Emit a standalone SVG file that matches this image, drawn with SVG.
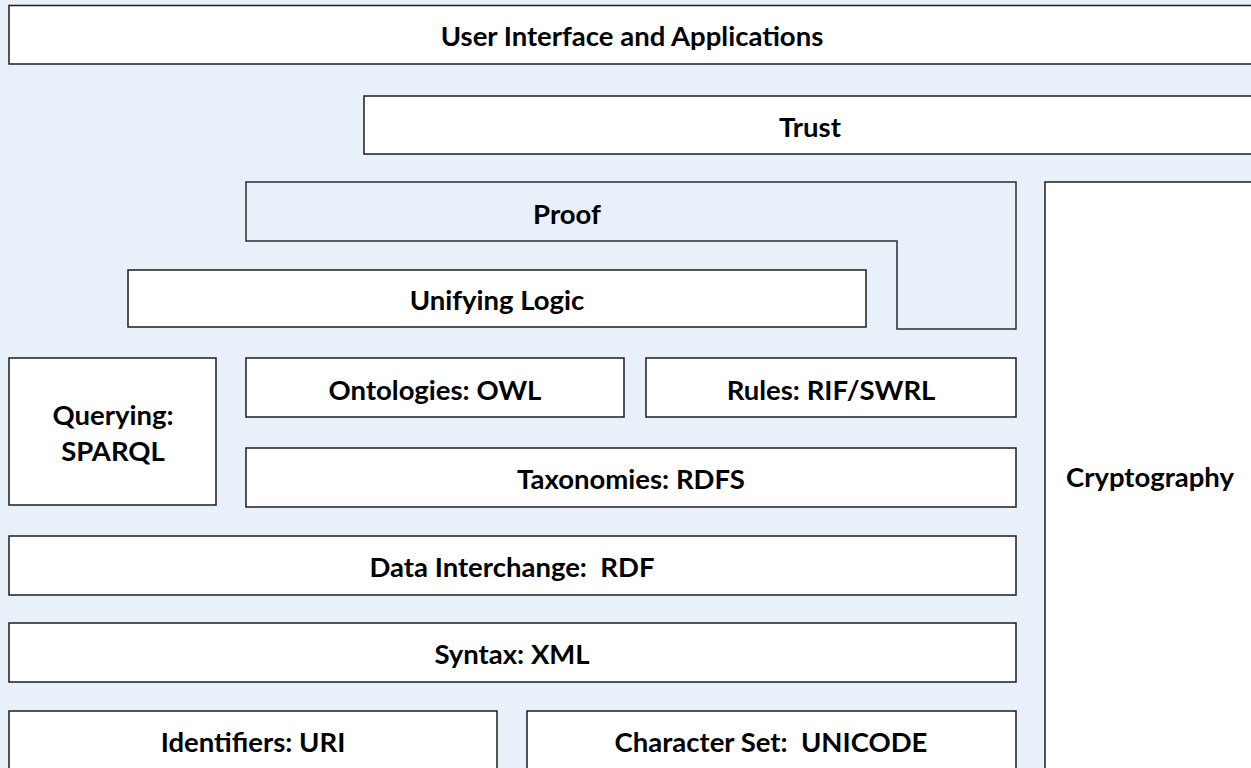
<svg xmlns="http://www.w3.org/2000/svg" width="1251" height="768" viewBox="0 0 1251 768">
  <style>
    .box { fill: #ffffff; stroke: #1c1c1c; stroke-width: 1.5; }
    .band { fill: #e8f1fa; stroke: #2a2d31; stroke-width: 1.5; }
    .lbl { font-family: Lato, "Liberation Sans", sans-serif; font-weight: bold; font-size: 27.5px; fill: #000; text-anchor: middle; dominant-baseline: central; }
  </style>
  <rect x="0" y="0" width="1251" height="768" fill="#e8f1fa"/>

  <g id="ui">
    <rect class="box" x="9" y="5.5" width="1260" height="58.5"/>
    <text class="lbl" x="632" y="35">User Interface and Applications</text>
  </g>
  <g id="trust">
    <rect class="box" x="364" y="96" width="900" height="58"/>
    <text class="lbl" x="810" y="126">Trust</text>
  </g>
  <g id="proof">
    <path class="band" d="M246,182 H1016 V329 H897 V241 H246 Z"/>
    <text class="lbl" x="567" y="213">Proof</text>
  </g>
  <g id="crypto">
    <rect class="box" x="1045" y="182" width="230" height="600"/>
    <text class="lbl" x="1150" y="476">Cryptography</text>
  </g>
  <g id="logic">
    <rect class="box" x="128" y="270" width="738" height="57"/>
    <text class="lbl" x="497" y="299">Unifying Logic</text>
  </g>
  <g id="query">
    <rect class="box" x="9" y="358" width="207" height="147"/>
    <text class="lbl" x="113" y="414">Querying:</text>
    <text class="lbl" x="113" y="450">SPARQL</text>
  </g>
  <g id="owl">
    <rect class="box" x="246" y="358" width="378" height="59"/>
    <text class="lbl" x="435" y="389">Ontologies: OWL</text>
  </g>
  <g id="rules">
    <rect class="box" x="646" y="358" width="370" height="59"/>
    <text class="lbl" x="831" y="389">Rules: RIF/SWRL</text>
  </g>
  <g id="rdfs">
    <rect class="box" x="246" y="448" width="770" height="59"/>
    <text class="lbl" x="631" y="478">Taxonomies: RDFS</text>
  </g>
  <g id="rdf">
    <rect class="box" x="9" y="536" width="1007" height="59"/>
    <text class="lbl" x="512" y="566" xml:space="preserve">Data Interchange:  RDF</text>
  </g>
  <g id="xml">
    <rect class="box" x="9" y="623" width="1007" height="59"/>
    <text class="lbl" x="512" y="653">Syntax: XML</text>
  </g>
  <g id="uri">
    <rect class="box" x="9" y="711" width="488" height="80"/>
    <text class="lbl" x="253" y="741">Identifiers: URI</text>
  </g>
  <g id="unicode">
    <rect class="box" x="527" y="711" width="489" height="80"/>
    <text class="lbl" x="771" y="741" xml:space="preserve">Character Set:  UNICODE</text>
  </g>
  <g id="connectors"/>
</svg>
